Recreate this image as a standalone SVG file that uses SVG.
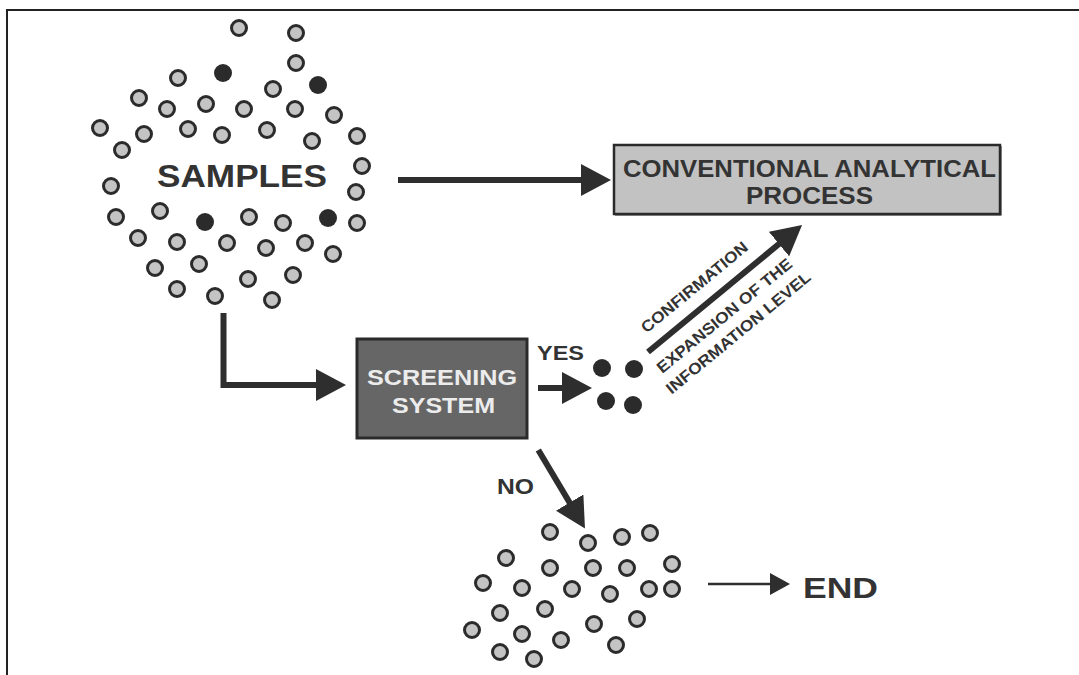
<svg xmlns="http://www.w3.org/2000/svg" width="1079" height="675" viewBox="0 0 1079 675">
<style>
.c{fill:#c4c4c4;stroke:#2b2b2b;stroke-width:3}
.f{fill:#2b2b2b}
.t{font-family:"Liberation Sans",Arial,sans-serif;font-weight:bold;fill:#333}
.ln{fill:none;stroke:#2e2e2e;stroke-width:6}
.thin{fill:none;stroke:#2e2e2e;stroke-width:2.5}
</style>
<defs>
<marker id="head" markerUnits="userSpaceOnUse" markerWidth="30" markerHeight="32" refX="15" refY="16" orient="auto" viewBox="0 0 30 32">
<path d="M0,0 L30,16 L0,32 z" fill="#2e2e2e"/>
</marker>
<marker id="headS" markerUnits="userSpaceOnUse" markerWidth="20" markerHeight="22" refX="8" refY="11" orient="auto" viewBox="0 0 20 22">
<path d="M0,0 L20,11 L0,22 z" fill="#2e2e2e"/>
</marker>
</defs>
<rect width="1079" height="675" fill="#fff"/>
<path d="M7,675 V10 H1079" fill="none" stroke="#222" stroke-width="2"/>

<g id="samples">
<circle class="c" cx="239" cy="28" r="7.5"/>
<circle class="c" cx="296" cy="33" r="7.5"/>
<circle class="f" cx="223" cy="73" r="9"/>
<circle class="c" cx="296" cy="63" r="7.5"/>
<circle class="c" cx="178" cy="78" r="7.5"/>
<circle class="f" cx="318" cy="85" r="9"/>
<circle class="c" cx="273" cy="89" r="7.5"/>
<circle class="c" cx="139" cy="98" r="7.5"/>
<circle class="c" cx="167" cy="109" r="7.5"/>
<circle class="c" cx="206" cy="104" r="7.5"/>
<circle class="c" cx="244" cy="109" r="7.5"/>
<circle class="c" cx="295" cy="109" r="7.5"/>
<circle class="c" cx="334" cy="115" r="7.5"/>
<circle class="c" cx="100" cy="128" r="7.5"/>
<circle class="c" cx="144" cy="134" r="7.5"/>
<circle class="c" cx="188" cy="129" r="7.5"/>
<circle class="c" cx="222" cy="135" r="7.5"/>
<circle class="c" cx="267" cy="130" r="7.5"/>
<circle class="c" cx="312" cy="141" r="7.5"/>
<circle class="c" cx="357" cy="136" r="7.5"/>
<circle class="c" cx="122" cy="150" r="7.5"/>
<circle class="c" cx="362" cy="166" r="7.5"/>
<circle class="c" cx="111" cy="186" r="7.5"/>
<circle class="c" cx="356" cy="192" r="7.5"/>
<circle class="c" cx="116" cy="217" r="7.5"/>
<circle class="c" cx="160" cy="211" r="7.5"/>
<circle class="f" cx="205" cy="222" r="9"/>
<circle class="c" cx="249" cy="217" r="7.5"/>
<circle class="c" cx="283" cy="223" r="7.5"/>
<circle class="f" cx="328" cy="218" r="9"/>
<circle class="c" cx="357" cy="223" r="7.5"/>
<circle class="c" cx="138" cy="238" r="7.5"/>
<circle class="c" cx="177" cy="242" r="7.5"/>
<circle class="c" cx="227" cy="243" r="7.5"/>
<circle class="c" cx="266" cy="248" r="7.5"/>
<circle class="c" cx="305" cy="243" r="7.5"/>
<circle class="c" cx="333" cy="254" r="7.5"/>
<circle class="c" cx="155" cy="268" r="7.5"/>
<circle class="c" cx="199" cy="264" r="7.5"/>
<circle class="c" cx="248" cy="279" r="7.5"/>
<circle class="c" cx="293" cy="275" r="7.5"/>
<circle class="c" cx="177" cy="289" r="7.5"/>
<circle class="c" cx="215" cy="296" r="7.5"/>
<circle class="c" cx="272" cy="300" r="7.5"/>
<text class="t" x="157" y="187" font-size="31" textLength="170" lengthAdjust="spacingAndGlyphs">SAMPLES</text>
</g>

<g id="conventional">
<rect x="614" y="145" width="386" height="69" fill="#c2c2c2" stroke="#2a2a2a" stroke-width="2.5"/>
<path d="M615,214.5 H1000.5 V146" fill="none" stroke="#2a2a2a" stroke-width="2"/>
<text class="t" x="623" y="177" font-size="23" textLength="373" lengthAdjust="spacingAndGlyphs">CONVENTIONAL ANALYTICAL</text>
<text class="t" x="746" y="204" font-size="23" textLength="127" lengthAdjust="spacingAndGlyphs">PROCESS</text>
</g>

<g id="screening">
<rect x="357" y="339" width="170" height="99" fill="#666" stroke="#2a2a2a" stroke-width="3"/>
<text class="t" x="367" y="385" font-size="22" textLength="150" lengthAdjust="spacingAndGlyphs" style="fill:#ececec">SCREENING</text>
<text class="t" x="392" y="413" font-size="22" textLength="103" lengthAdjust="spacingAndGlyphs" style="fill:#ececec">SYSTEM</text>
</g>

<g id="positives">
<circle class="f" cx="602" cy="368" r="9"/>
<circle class="f" cx="634" cy="369" r="9"/>
<circle class="f" cx="606" cy="401" r="9"/>
<circle class="f" cx="633" cy="405" r="9"/>
</g>

<g id="negatives">
<circle class="c" cx="550" cy="532" r="7.5"/>
<circle class="c" cx="588" cy="543" r="7.5"/>
<circle class="c" cx="622" cy="537" r="7.5"/>
<circle class="c" cx="650" cy="533" r="7.5"/>
<circle class="c" cx="506" cy="558" r="7.5"/>
<circle class="c" cx="550" cy="568" r="7.5"/>
<circle class="c" cx="593" cy="568" r="7.5"/>
<circle class="c" cx="627" cy="568" r="7.5"/>
<circle class="c" cx="672" cy="564" r="7.5"/>
<circle class="c" cx="483" cy="583" r="7.5"/>
<circle class="c" cx="522" cy="588" r="7.5"/>
<circle class="c" cx="572" cy="589" r="7.5"/>
<circle class="c" cx="610" cy="594" r="7.5"/>
<circle class="c" cx="649" cy="589" r="7.5"/>
<circle class="c" cx="672" cy="589" r="7.5"/>
<circle class="c" cx="500" cy="613" r="7.5"/>
<circle class="c" cx="545" cy="609" r="7.5"/>
<circle class="c" cx="594" cy="624" r="7.5"/>
<circle class="c" cx="637" cy="619" r="7.5"/>
<circle class="c" cx="472" cy="630" r="7.5"/>
<circle class="c" cx="522" cy="634" r="7.5"/>
<circle class="c" cx="561" cy="640" r="7.5"/>
<circle class="c" cx="616" cy="645" r="7.5"/>
<circle class="c" cx="500" cy="652" r="7.5"/>
<circle class="c" cx="534" cy="659" r="7.5"/>
</g>

<g id="end">
<text class="t" x="803" y="598" font-size="30" textLength="75" lengthAdjust="spacingAndGlyphs">END</text>
</g>

<g id="connectors">
<path class="ln" d="M398,180 H596" marker-end="url(#head)"/>
<path class="ln" d="M223.5,313 V385 H331" marker-end="url(#head)"/>
<path class="ln" d="M538,388 H577" marker-end="url(#head)"/>
<path class="ln" d="M648,352 L790.5,234.5" marker-end="url(#head)"/>
<path class="ln" d="M538.3,450 L577.3,515.5" marker-end="url(#head)"/>
<path class="thin" d="M708,584 H778" marker-end="url(#headS)"/>
<text class="t" x="537" y="360" font-size="21" textLength="47" lengthAdjust="spacingAndGlyphs">YES</text>
<text class="t" x="497" y="494" font-size="22" textLength="37" lengthAdjust="spacingAndGlyphs">NO</text>
<g transform="translate(648,352) rotate(-39.5)">
<text class="t" x="77" y="-15" font-size="16" text-anchor="middle" textLength="133" lengthAdjust="spacingAndGlyphs">CONFIRMATION</text>
<text class="t" x="82" y="26" font-size="16" text-anchor="middle" textLength="170" lengthAdjust="spacingAndGlyphs">EXPANSION OF THE</text>
<text class="t" x="82" y="48" font-size="16" text-anchor="middle" textLength="182" lengthAdjust="spacingAndGlyphs">INFORMATION LEVEL</text>
</g>
</g>
</svg>
